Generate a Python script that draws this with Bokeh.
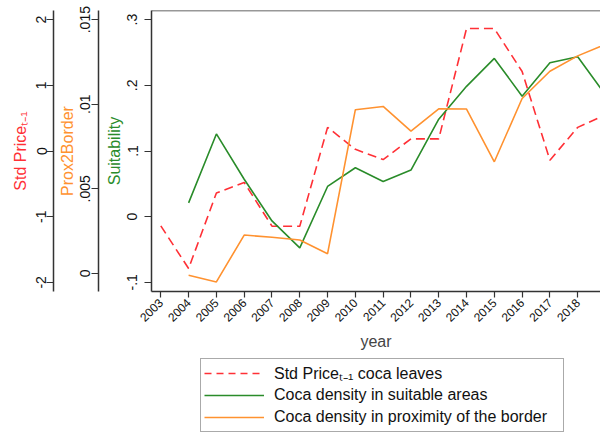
import math
from bokeh.plotting import figure
from bokeh.layouts import column
from bokeh.models import (Range1d, LinearAxis, FixedTicker, CustomJSTickFormatter,
                          Legend, LegendItem, Span)
from bokeh.embed import file_html
from bokeh.resources import INLINE

# ---- data ----
years = list(range(2003, 2020))
price = [-1.14, -1.79, -0.64, -0.48, -1.145, -1.145, 0.36, 0.025, -0.13, 0.185,
         0.185, 1.865, 1.865, 1.21, -0.14, 0.36, 0.55]
dens_years = list(range(2004, 2020))
suit = [0.021, 0.126, 0.057, -0.0065, -0.0475, 0.046, 0.0745, 0.0535, 0.071,
        0.1485, 0.1985, 0.241, 0.1835, 0.2345, 0.2435, 0.1855]
prox = [-0.0001, -0.0005, 0.00227, 0.00214, 0.00198, 0.00117, 0.00968, 0.00987,
        0.00841, 0.00973, 0.00972, 0.0066, 0.01034, 0.01195, 0.01286, 0.01354]

price_ticks = [-2, -1, 0, 1, 2]
prox_ticks = [0, 0.005, 0.01, 0.015]
suit_ticks = [-0.1, 0, 0.1, 0.2, 0.3]
labels = ["Std Price\u209c\u208b\u2081 coca leaves",
          "Coca density in suitable areas",
          "Coca density in proximity of the border"]

RED = "#ff3036"
GREEN = "#2a8c2a"
ORANGE = "#ff9230"
AX = "#333333"
FONT = "Liberation Sans"

fmt_code = """
var v = Math.round(tick*1e6)/1e6;
var s = v.toString();
return s.replace(/^(-?)0\\./, '$1.');
"""

p = figure(width=600, height=352, output_backend="svg", toolbar_location=None,
           x_range=Range1d(2002.665, 2018.82),
           y_range=Range1d(-0.11396, 0.31396),
           min_border_top=10, min_border_right=0, min_border_left=151,
           min_border_bottom=57)
p.extra_y_ranges = {"prox": Range1d(-0.001066, 0.015542),
                    "price": Range1d(-2.1396, 2.1396)}
p.grid.visible = False
p.outline_line_color = None
p.background_fill_color = "white"
p.border_fill_color = "white"

p.line(years, price, y_range_name="price", line_color=RED,
       line_width=1.6, line_dash="9 5")
p.line(dens_years, suit, line_color=GREEN, line_width=1.6)
p.line(dens_years, prox, y_range_name="prox", line_color=ORANGE, line_width=1.6)

# top border of the frame
p.add_layout(Span(location=0.31396, dimension="width", line_color=AX, line_width=1.5))

def style_y(ax, ticks, label, color, lab_standoff, axlab_standoff):
    ax.ticker = FixedTicker(ticks=ticks)
    ax.formatter = CustomJSTickFormatter(code=fmt_code)
    ax.axis_label = label
    ax.axis_label_text_color = color
    ax.axis_label_text_font = FONT
    ax.axis_label_text_font_style = "normal"
    ax.axis_label_text_font_size = "16px"
    ax.axis_label_standoff = axlab_standoff
    ax.major_label_text_font = FONT
    ax.major_label_text_font_size = "14px"
    ax.major_label_text_color = "#111111"
    ax.major_label_orientation = "vertical"
    ax.major_label_standoff = lab_standoff
    ax.major_tick_out = 7
    ax.major_tick_in = 0
    ax.minor_tick_line_color = None
    ax.axis_line_color = AX
    ax.axis_line_width = 1.5
    ax.major_tick_line_color = AX
    ax.major_tick_line_width = 1.2

def spacer(w):
    # an empty axis used only as a gap between two axes
    return LinearAxis(ticker=FixedTicker(ticks=[0.1]),
                      formatter=CustomJSTickFormatter(code="return ''"),
                      major_tick_out=w, major_tick_in=0, major_label_standoff=0,
                      axis_line_color=None, major_tick_line_color=None,
                      minor_tick_line_color=None, major_label_orientation="horizontal")

# suitability = default axis
style_y(p.yaxis[0], suit_ticks, "Suitability", GREEN, 7, 2)
p.add_layout(spacer(4), "left")
ax_prox = LinearAxis(y_range_name="prox")
style_y(ax_prox, prox_ticks, "Prox2Border", ORANGE, 1, 2)
p.add_layout(ax_prox, "left")
p.add_layout(spacer(2), "left")
ax_price = LinearAxis(y_range_name="price")
style_y(ax_price, price_ticks, "Std Price\u209c\u208b\u2081", RED, 0, 5)
p.add_layout(ax_price, "left")

xa = p.xaxis[0]
xa.ticker = FixedTicker(ticks=years)
xa.major_label_orientation = math.pi / 4
xa.major_label_text_font = FONT
xa.major_label_text_font_size = "12px"
xa.major_label_text_color = "#111111"
xa.major_label_standoff = 3
xa.major_tick_out = 6
xa.major_tick_in = 0
xa.minor_tick_line_color = None
xa.axis_line_color = AX
xa.axis_line_width = 1.5
xa.major_tick_line_color = AX
xa.major_tick_line_width = 1.2
xa.axis_label = "year"
xa.axis_label_text_font = FONT
xa.axis_label_text_font_style = "normal"
xa.axis_label_text_font_size = "16px"
xa.axis_label_standoff = 4

# ---- legend in its own strip below the chart ----
q = figure(width=600, height=85, output_backend="svg", toolbar_location=None,
           x_range=Range1d(0, 1), y_range=Range1d(0, 1),
           min_border=0)
q.axis.visible = False
q.grid.visible = False
q.outline_line_color = None
q.border_fill_color = "white"
# same series (outside this strip's ranges, so only their legend keys show)
l1 = q.line(years, price, line_color=RED, line_width=1.6, line_dash="7 5")
l2 = q.line(dens_years, suit, line_color=GREEN, line_width=1.6)
l3 = q.line(dens_years, prox, line_color=ORANGE, line_width=1.6)

legend = Legend(items=[LegendItem(label=labels[0], renderers=[l1]),
                       LegendItem(label=labels[1], renderers=[l2]),
                       LegendItem(label=labels[2], renderers=[l3])],
                location=(49, 5), orientation="vertical")
legend.label_text_font = FONT
legend.label_text_font_size = "16px"
legend.label_text_color = "#111111"
legend.glyph_width = 60
legend.glyph_height = 16
legend.label_height = 22
legend.label_width = 286
legend.label_standoff = 10
legend.spacing = 0
legend.padding = 3
legend.margin = 0
legend.border_line_color = "#555555"
legend.border_line_width = 1.2
legend.background_fill_color = "white"
q.add_layout(legend, "center")

layout = column(p, q, spacing=0)
open("out.html", "w").write(file_html(layout, INLINE))
